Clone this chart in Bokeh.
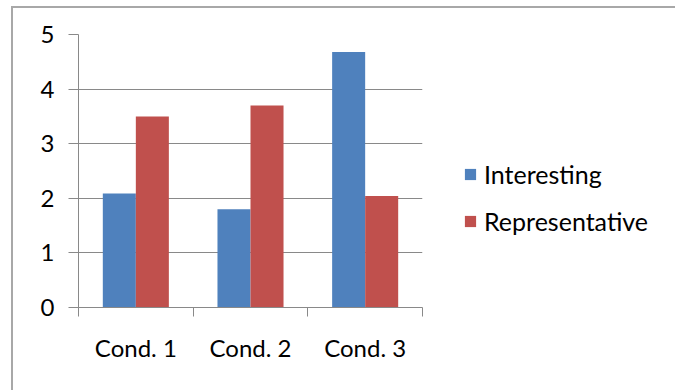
from bokeh.plotting import figure
from bokeh.models import Range1d, FixedTicker, Legend, LegendItem, ColumnDataSource
from bokeh.embed import file_html
from bokeh.resources import INLINE

# Chart data
categories = ["Cond. 1", "Cond. 2", "Cond. 3"]
interesting = [2.09, 1.8, 4.68]
representative = [3.5, 3.7, 2.04]
series_names = ["Interesting", "Representative"]
y_ticks = [0, 1, 2, 3, 4, 5]

FONT = "Lato"
FONT_SIZE = "24px"
LEGEND_FONT_SIZE = "25px"
BLUE = "#4F81BD"
RED = "#C0504D"
GRID = "#898989"

# one unit per category on a numeric axis, bars side by side in the middle
centers = [i + 0.5 for i in range(len(categories))]
boundaries = [float(i) for i in range(len(categories) + 1)]
bar_w = 0.288

src = ColumnDataSource(dict(
    x_int=[c - bar_w / 2 for c in centers],
    x_rep=[c + bar_w / 2 for c in centers],
    interesting=interesting,
    representative=representative,
))

p = figure(
    frame_width=344, frame_height=273,
    x_range=Range1d(0, len(categories)), y_range=Range1d(0, 5),
    output_backend="svg", toolbar_location=None,
    min_border_left=65, min_border_top=26,
    min_border_bottom=83, min_border_right=250,
    margin=(6, 0, 0, 11),
)
p.styles = {"border": "2px solid #a8a8a8"}
p.outline_line_color = None
p.background_fill_color = "white"
p.border_fill_color = "white"

r_int = p.vbar(x="x_int", width=bar_w, top="interesting", bottom=0,
               source=src, fill_color=BLUE, line_color=None)
r_rep = p.vbar(x="x_rep", width=bar_w, top="representative", bottom=0,
               source=src, fill_color=RED, line_color=None)

# x axis: labels at category centres, tick marks at category boundaries
xa = p.xaxis[0]
xa.ticker = FixedTicker(ticks=centers, minor_ticks=boundaries)
xa.major_label_overrides = {c: name for c, name in zip(centers, categories)}
xa.major_tick_in = 0
xa.major_tick_out = 0
xa.minor_tick_in = 0
xa.minor_tick_out = 9
xa.minor_tick_line_color = GRID
xa.axis_line_color = GRID
xa.major_label_standoff = 16
xa.major_label_text_font = FONT
xa.major_label_text_font_size = FONT_SIZE
xa.major_label_text_color = "black"
p.xgrid.visible = False

ya = p.yaxis[0]
ya.ticker = FixedTicker(ticks=y_ticks, minor_ticks=[])
ya.major_tick_in = 0
ya.major_tick_out = 10
ya.major_tick_line_color = GRID
ya.minor_tick_line_color = None
ya.axis_line_color = GRID
ya.major_label_standoff = 14
ya.major_label_text_font = FONT
ya.major_label_text_font_size = FONT_SIZE
ya.major_label_text_color = "black"
p.ygrid.grid_line_color = GRID
p.ygrid.ticker = FixedTicker(ticks=y_ticks)

legend = Legend(
    items=[LegendItem(label=series_names[0], renderers=[r_int]),
           LegendItem(label=series_names[1], renderers=[r_rep])],
    location=(41, 71),
    glyph_width=14, glyph_height=14,
    label_standoff=7, label_height=24, spacing=17,
    label_text_font=FONT, label_text_font_size=LEGEND_FONT_SIZE,
    label_text_color="black",
    border_line_color=None, background_fill_alpha=0,
    padding=0, margin=0,
)
p.add_layout(legend, "right")

open("out.html", "w").write(file_html(p, INLINE))
